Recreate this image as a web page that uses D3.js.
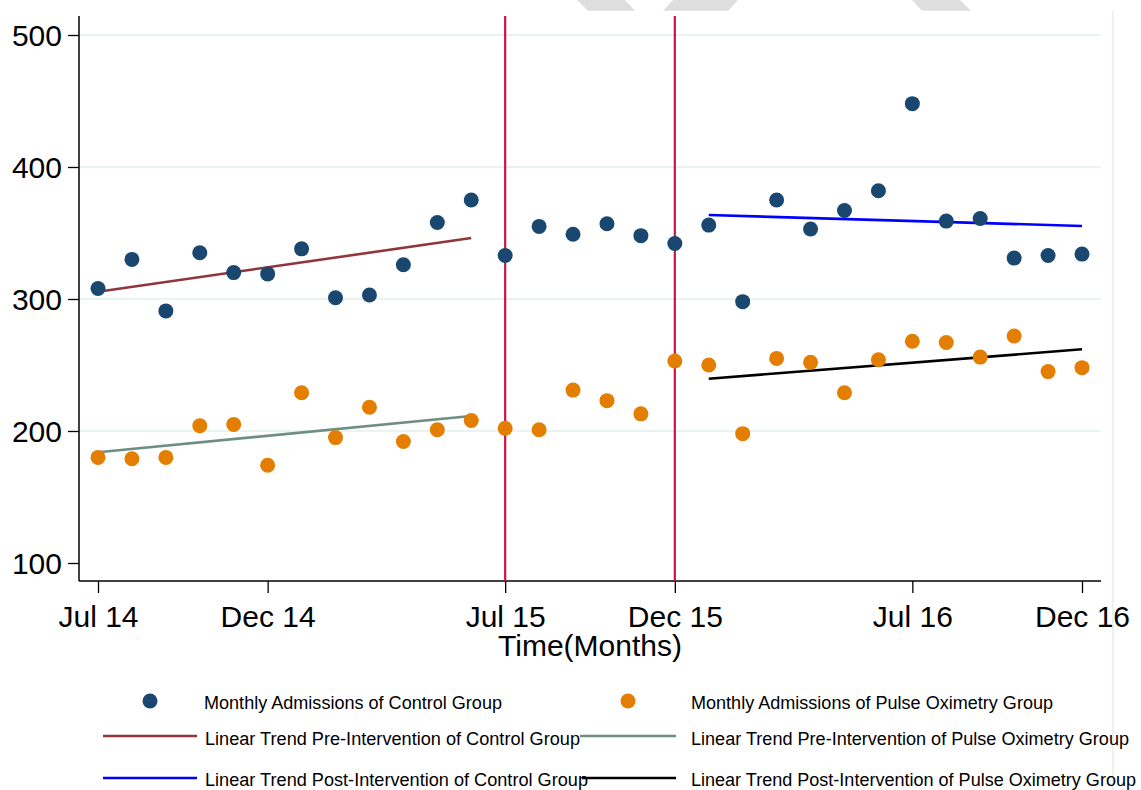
<!DOCTYPE html>
<html>
<head>
<meta charset="utf-8">
<script src="https://cdn.jsdelivr.net/npm/d3@7/dist/d3.min.js"></script>
<style>
  html, body { margin: 0; padding: 0; background: #fff; }
  svg { display: block; font-family: Arial, "Liberation Sans", sans-serif; }
</style>
</head>
<body>
<svg id="chart" width="1141" height="790"></svg>
<script>
// Month index 0 = Jul 2014 ... 29 = Dec 2016
const months = d3.range(0, 30);

// Monthly admissions, control group
const controlAdmissions = [308, 330, 291, 335, 320, 319, 338, 301, 303, 326,
                           358, 375, 333, 355, 349, 357, 348, 342, 356, 298,
                           375, 353, 367, 382, 448, 359, 361, 331, 333, 334];

// Monthly admissions, pulse oximetry group
const pulseAdmissions = [180, 179, 180, 204, 205, 174, 229, 195, 218, 192,
                         201, 208, 202, 201, 231, 223, 213, 253, 250, 198,
                         255, 252, 229, 254, 268, 267, 256, 272, 245, 248];

// Fitted linear trends: [start month, start value], [end month, end value]
const controlPreTrend  = [[0, 305.5], [11, 346.2]];
const pulsePreTrend    = [[0, 183.9], [11, 211.4]];
const controlPostTrend = [[18, 363.6], [29, 355.3]];
const pulsePostTrend   = [[18, 239.6], [29, 261.9]];

// Intervention boundaries
const interventionMonths = [12, 17];

// Axis ticks
const xTickMonths = [0, 5, 12, 17, 24, 29];
const xTickLabels = ["Jul 14", "Dec 14", "Jul 15", "Dec 15", "Jul 16", "Dec 16"];
const yTickValues = [100, 200, 300, 400, 500];

const colors = {
  control: "#1a476f",
  pulse: "#e37e00",
  controlPre: "#90353b",
  pulsePre: "#6e8e84",
  controlPost: "#0000ff",
  pulsePost: "#000000",
  intervention: "#cc1444",
  grid: "#eaf2f3"
};

const svg = d3.select("#chart");

const plotLeft = 79, plotRight = 1101, plotTop = 16, plotBottom = 581;

const x = d3.scaleLinear().domain([0, 29]).range([98, 1082]);
const y = d3.scaleLinear().domain([100, 500]).range([563, 35]);

// faint outer frame line on the right
svg.append("line")
  .attr("x1", 1113).attr("x2", 1113).attr("y1", 10).attr("y2", 790)
  .attr("stroke", colors.grid).attr("stroke-width", 2);

// light grey header chevrons
const chevrons = [
  [[577, 0], [625, 0], [635, 10.7], [588, 10.7]],
  [[673, 0], [738, 0], [728, 10.7], [663, 10.7]],
  [[912, 0], [960, 0], [971, 10.7], [922, 10.7]]
];
svg.append("g").selectAll("polygon").data(chevrons).join("polygon")
  .attr("points", d => d.map(p => p.join(",")).join(" "))
  .attr("fill", "#dedede");

// horizontal gridlines
svg.append("g").selectAll("line").data(yTickValues.filter(v => v > 100)).join("line")
  .attr("x1", plotLeft + 1).attr("x2", plotRight)
  .attr("y1", d => y(d)).attr("y2", d => y(d))
  .attr("stroke", colors.grid).attr("stroke-width", 2);

// y axis
const yAxis = svg.append("g")
  .attr("transform", `translate(${plotLeft},0)`)
  .call(d3.axisLeft(y).tickValues(yTickValues).tickSize(11).tickPadding(6).tickSizeOuter(0));
yAxis.select(".domain").remove();
yAxis.selectAll(".tick line").attr("stroke", "#000").attr("stroke-width", 1.3);
yAxis.selectAll(".tick text")
  .attr("font-size", 30).attr("fill", "#000")
  .attr("font-family", "Arial, 'Liberation Sans', sans-serif")
  .attr("dy", "0.36em");

// x axis
const xAxis = svg.append("g")
  .attr("transform", `translate(0,${plotBottom})`)
  .call(d3.axisBottom(x).tickValues(xTickMonths)
    .tickFormat((d, i) => xTickLabels[i]).tickSize(12).tickSizeOuter(0));
xAxis.select(".domain").remove();
xAxis.selectAll(".tick line").attr("stroke", "#000").attr("stroke-width", 1.3);
xAxis.selectAll(".tick text")
  .attr("font-size", 30).attr("fill", "#000")
  .attr("font-family", "Arial, 'Liberation Sans', sans-serif")
  .attr("y", 46).attr("dy", 0);

// axis lines
svg.append("line")
  .attr("x1", plotLeft).attr("x2", plotLeft).attr("y1", plotTop).attr("y2", plotBottom)
  .attr("stroke", "#000").attr("stroke-width", 1.5);
svg.append("line")
  .attr("x1", plotLeft).attr("x2", plotRight).attr("y1", plotBottom).attr("y2", plotBottom)
  .attr("stroke", "#000").attr("stroke-width", 1.5);

// x axis title
svg.append("text")
  .attr("x", (plotLeft + plotRight) / 2).attr("y", 656)
  .attr("text-anchor", "middle").attr("font-size", 30).attr("fill", "#000")
  .text("Time(Months)");

// intervention lines
svg.append("g").selectAll("line").data(interventionMonths).join("line")
  .attr("x1", d => x(d)).attr("x2", d => x(d))
  .attr("y1", plotTop).attr("y2", plotBottom)
  .attr("stroke", colors.intervention).attr("stroke-width", 2.2);

// trend lines
const trendLine = d3.line().x(d => x(d[0])).y(d => y(d[1]));
const trends = [
  { data: controlPreTrend, color: colors.controlPre },
  { data: pulsePreTrend, color: colors.pulsePre },
  { data: controlPostTrend, color: colors.controlPost },
  { data: pulsePostTrend, color: colors.pulsePost }
];
svg.append("g").selectAll("path").data(trends).join("path")
  .attr("d", d => trendLine(d.data))
  .attr("fill", "none").attr("stroke", d => d.color).attr("stroke-width", 2.6);

// admissions points
svg.append("g").selectAll("circle").data(months).join("circle")
  .attr("cx", d => x(d)).attr("cy", d => y(controlAdmissions[d]))
  .attr("r", 7.5).attr("fill", colors.control);
svg.append("g").selectAll("circle").data(months).join("circle")
  .attr("cx", d => x(d)).attr("cy", d => y(pulseAdmissions[d]))
  .attr("r", 7.5).attr("fill", colors.pulse);

// legend
const legendItems = [
  { type: "dot", color: colors.control, label: "Monthly Admissions of Control Group",
    mx: 150, my: 701, tx: 204, ty: 709, tw: 298 },
  { type: "dot", color: colors.pulse, label: "Monthly Admissions of Pulse Oximetry Group",
    mx: 628, my: 701, tx: 691, ty: 709, tw: 362 },
  { type: "line", color: colors.controlPre, label: "Linear Trend Pre-Intervention of Control Group",
    x1: 103, x2: 197, my: 736, tx: 205, ty: 745, tw: 375 },
  { type: "line", color: colors.pulsePre, label: "Linear Trend Pre-Intervention of Pulse Oximetry Group",
    x1: 580, x2: 676, my: 736, tx: 691, ty: 745, tw: 438 },
  { type: "line", color: colors.controlPost, label: "Linear Trend Post-Intervention of Control Group",
    x1: 103, x2: 197, my: 778, tx: 205, ty: 786, tw: 383 },
  { type: "line", color: colors.pulsePost, label: "Linear Trend Post-Intervention of Pulse Oximetry Group",
    x1: 582, x2: 676, my: 778, tx: 691, ty: 786, tw: 445 }
];
const legend = svg.append("g");
legendItems.forEach(d => {
  if (d.type === "dot") {
    legend.append("circle").attr("cx", d.mx).attr("cy", d.my).attr("r", 7.5).attr("fill", d.color);
  } else {
    legend.append("line").attr("x1", d.x1).attr("x2", d.x2).attr("y1", d.my).attr("y2", d.my)
      .attr("stroke", d.color).attr("stroke-width", 2.6);
  }
  legend.append("text")
    .attr("x", d.tx).attr("y", d.ty)
    .attr("font-size", 18).attr("fill", "#000")
    .attr("textLength", d.tw).attr("lengthAdjust", "spacingAndGlyphs")
    .text(d.label);
});
</script>
</body>
</html>
